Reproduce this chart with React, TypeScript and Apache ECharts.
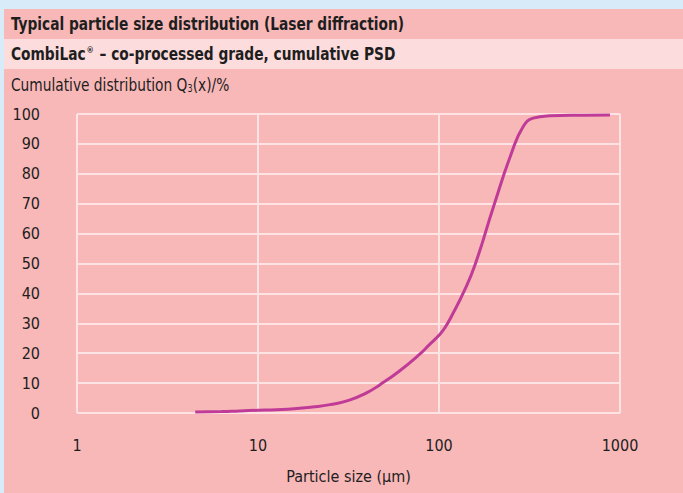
import React, { useEffect, useRef } from "react";
import * as echarts from "echarts";

const titleMain = "Typical particle size distribution (Laser diffraction)";
const titleSubBrand = "CombiLac";
const titleSubRest = " – co-processed grade, cumulative PSD";
const yTitleA = "Cumulative distribution Q";
const yTitleSub = "3";
const yTitleB = "(x)/%";
const xTitle = "Particle size (µm)";

const particleSizes = [4.5, 6.3, 7.9, 10, 12.6, 15.8, 20, 25, 32, 40, 47, 60, 78, 88, 100, 108, 118, 137, 158, 200, 251, 292, 331, 410, 631, 880];
const cumulative = [0.3, 0.5, 0.7, 0.9, 1.1, 1.4, 2.0, 2.8, 4.3, 6.8, 9.4, 13.9, 19.6, 22.7, 26, 28.6, 32.7, 40.5, 49.5, 69, 86.8, 95.8, 98.6, 99.4, 99.6, 99.7];

const FONT = '"Liberation Sans Narrow", "DejaVu Sans Condensed", "Roboto", sans-serif';
const DARK = "#f8b8b8";
const LIGHT = "#fcdcdc";
const GRID = "#fde3e3";
const LINE = "#c03b98";
const TEXT = "#1e1e1e";
const SX = 0.9;

export default function App() {
  const ref = useRef<HTMLDivElement>(null);
  useEffect(() => {
    if (!ref.current) return;
    const chart = echarts.init(ref.current, null, { renderer: "svg" });
    const data = particleSizes.map((s, i) => [s, cumulative[i]]);
    chart.setOption({
      animation: false,
      backgroundColor: "#d7ebf8",
      textStyle: { fontFamily: FONT },
      graphic: [
        { type: "rect", z: -10, shape: { x: 4, y: 9, width: 679, height: 484 }, style: { fill: DARK } },
        { type: "rect", z: -9, shape: { x: 4, y: 39, width: 679, height: 30 }, style: { fill: LIGHT } },
        {
          type: "text", x: 11, y: 24, scaleX: SX,
          style: { text: titleMain, fontFamily: FONT, fontWeight: "bold", fontSize: 17, fill: TEXT, verticalAlign: "middle" },
        },
        {
          type: "text", x: 11, y: 54, scaleX: SX,
          style: {
            text: `{b|${titleSubBrand}}{s|®}{b|${titleSubRest}}`,
            fontFamily: FONT, fill: TEXT, verticalAlign: "middle",
            rich: {
              b: { fontFamily: FONT, fontWeight: "bold", fontSize: 17, fill: TEXT, verticalAlign: "middle" },
              s: { fontFamily: FONT, fontWeight: "bold", fontSize: 9, fill: TEXT, verticalAlign: "top", padding: [0, 1, 0, 1] },
            },
          },
        },
        {
          type: "text", x: 11, y: 85, scaleX: SX,
          style: {
            text: `{r|${yTitleA}}{u|${yTitleSub}}{r|${yTitleB}}`,
            fontFamily: FONT, fill: TEXT, verticalAlign: "middle",
            rich: {
              r: { fontFamily: FONT, fontSize: 17, fill: TEXT, verticalAlign: "middle" },
              u: { fontFamily: FONT, fontSize: 10, fill: TEXT, verticalAlign: "bottom" },
            },
          },
        },
      ],
      grid: { left: 77, right: 63, top: 114, bottom: 80, containLabel: false },
      xAxis: {
        type: "log",
        logBase: 10,
        min: 1,
        max: 1000,
        name: xTitle,
        nameLocation: "middle",
        nameGap: 55,
        nameTextStyle: { fontFamily: FONT, fontSize: 16, color: TEXT },
        axisLine: { show: false },
        axisTick: { show: false },
        axisLabel: { fontFamily: FONT, fontSize: 16, color: TEXT, margin: 24, formatter: (v: number) => String(Math.round(v)) },
        splitLine: { show: true, lineStyle: { color: GRID, width: 2 } },
      },
      yAxis: {
        type: "value",
        min: 0,
        max: 100,
        interval: 10,
        axisLine: { show: false },
        axisTick: { show: false },
        axisLabel: { fontFamily: FONT, fontSize: 16, color: TEXT, margin: 37 },
        splitLine: { show: true, lineStyle: { color: GRID, width: 2 } },
      },
      series: [
        {
          type: "line",
          data,
          smooth: 0.5,
          showSymbol: false,
          lineStyle: { color: LINE, width: 3 },
        },
      ],
    });
    return () => chart.dispose();
  }, []);
  return <div ref={ref} style={{ position: "fixed", left: 0, top: 0, width: 683, height: 493 }} />;
}
